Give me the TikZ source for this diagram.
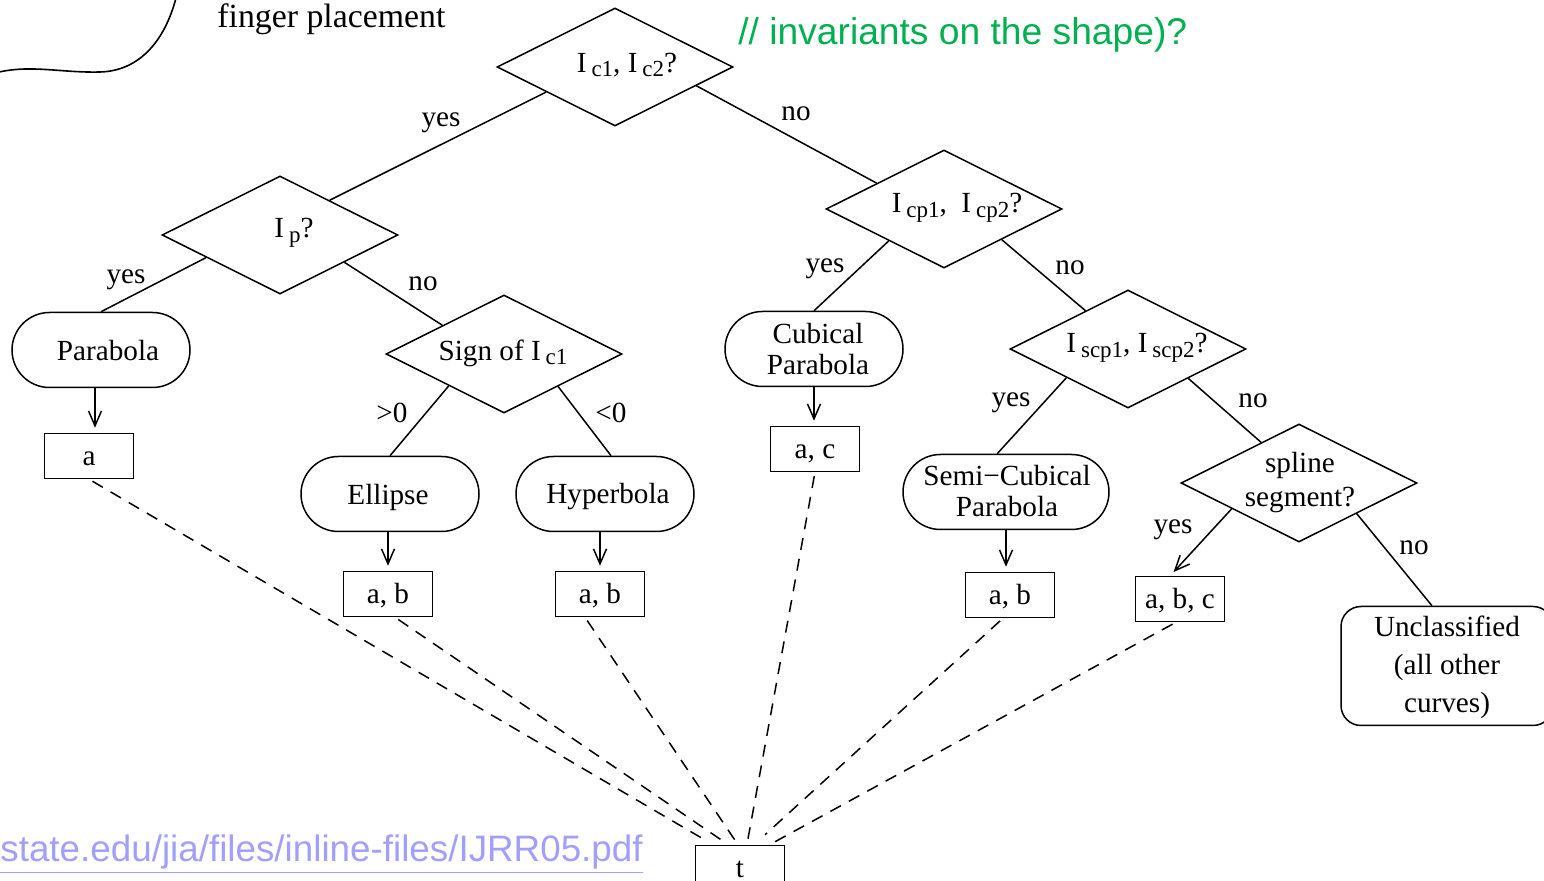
\documentclass[tikz,border=0pt]{standalone}
\usepackage{fontspec}
\setmainfont{Liberation Serif}
\newfontfamily\slidesans{Liberation Sans}
\usetikzlibrary{shapes.geometric,shapes.misc,arrows.meta,calc}
\definecolor{slidegreen}{RGB}{0,176,80}
\definecolor{linkblue}{RGB}{160,160,250}
% index set slightly lowered, as in the invariant names
\newcommand\idx[1]{\,\raisebox{-0.35ex}{\fontsize{11.5}{12}\selectfont #1}}

\begin{document}
\begin{tikzpicture}[x=0.5pt,y=-0.5pt,
  every node/.style={font=\fontsize{14.6}{15.5}\selectfont},
  test/.style={diamond,draw,line width=0.75pt,aspect=2,minimum width=118pt,minimum height=59pt,inner sep=0pt},
  leaf/.style={rounded rectangle,draw,line width=0.75pt,minimum width=89pt,minimum height=37.5pt,inner sep=0pt},
  param/.style={rectangle,draw,line width=0.75pt,minimum width=44.5pt,minimum height=22.5pt,inner sep=0pt,text height=12pt,text depth=2pt},
  txt/.style={inner sep=0pt,align=center},
  branch/.style={line width=0.75pt},
  arr/.style={line width=0.75pt,-{Straight Barb[length=7.5pt,width=6.5pt]},shorten >=2.5pt},
  dashlink/.style={line width=0.75pt,dash pattern=on 6pt off 4.5pt,shorten <=2pt}
]
\useasboundingbox (0,0) rectangle (1544,881);
\clip (0,0) rectangle (1544,881);

% hand-drawn stroke and surrounding slide text
\draw[line width=0.8pt] (-5,73) .. controls (30,64) and (60,73) .. (100,72)
  .. controls (140,71) and (165,40) .. (176,-2);
\node[txt,anchor=base west,font=\fontsize{16.9}{18}\selectfont] (finger) at (217,28) {finger placement};
\node[txt,anchor=base west,text=slidegreen,font=\slidesans\fontsize{18.6}{20}\selectfont] (inv) at (738,45) {// invariants on the shape)?};
\node[txt,anchor=base west,text=linkblue,font=\slidesans\fontsize{18.4}{20}\selectfont] (url) at (0,862) {\underline{state.edu/jia/files/inline-files/IJRR05.pdf}};

% decision diamonds
\node[test] (d1) at (615,67) {};
\node[test] (d2) at (280,235) {};
\node[test] (d3) at (944,209) {};
\node[test] (d4) at (504,354) {};
\node[test] (d5) at (1128,349) {};
\node[test] (d6) at (1299,483) {};
\node[txt] (d1t) at (627,65) {I\idx{c1},\ I\idx{c2}?};
\node[txt] (d2t) at (294,233) {I\idx{p}?};
\node[txt] (d3t) at (957,208) {I\idx{cp1},\ \ I\idx{cp2}?};
\node[txt] (d4t) at (503,353) {Sign of I\idx{c1}};
\node[txt] (d5t) at (1137,348) {I\idx{scp1}, I\idx{scp2}?};
\node[txt,font=\fontsize{14.6}{17}\selectfont] (d6t) at (1300,483) {spline\\segment?};

% curve classes
\node[leaf] (parab) at (101,350) {};
\node[leaf] (ellipse) at (390,494) {};
\node[leaf] (hyper) at (605,494) {};
\node[leaf] (cubic) at (814,349) {};
\node[leaf,minimum width=103pt] (semi) at (1006,492) {};
\node[rectangle,rounded corners=10pt,draw,line width=0.75pt,minimum width=106pt,minimum height=59.5pt] (uncl) at (1447,666) {};
\node[txt] (parabt) at (108,351) {Parabola};
\node[txt] (ellipset) at (388,497) {Ellipse};
\node[txt] (hypert) at (608,497) {Hyperbola};
\node[txt] (cubict) at (818,349) {Cubical\\Parabola};
\node[txt] (semit) at (1007,491) {Semi−Cubical\\Parabola};
\node[txt,font=\fontsize{14.6}{19}\selectfont] (unclt) at (1447,667) {Unclassified\\(all other\\curves)};

% parameter boxes
\node[param] (pa) at (89,456) {a};
\node[param] (pab1) at (388,594) {a, b};
\node[param] (pab2) at (600,594) {a, b};
\node[param] (pac) at (815,449) {a, c};
\node[param] (pab3) at (1010,595) {a, b};
\node[param] (pabc) at (1180,599) {a, b, c};
\node[param] (t) at (740,868) {t};

% branches
\draw[branch] (d1.200) -- (d2.35);
\draw[branch] (d1.-13) -- (d3.159);
\draw[branch] (d2.197) -- (parab.north);
\draw[branch] (d2.-23) -- (d4.155);
\draw[branch] (d4.210) -- (ellipse.north);
\draw[branch] (d4.-31) -- (hyper.81);
\draw[branch] (d3.210) -- (cubic.north);
\draw[branch] (d3.-28) -- (d5.138);
\draw[branch] (d5.205) -- (semi.103);
\draw[branch] (d5.-26) -- (d6.133);
\draw[arr] (d6.201) -- (pabc.113);
\draw[branch] (d6.-28) -- (uncl.104);

% branch labels
\node[txt] (l1) at (441,123) {yes};
\node[txt] (l2) at (796,114) {no};
\node[txt] (l3) at (126,280) {yes};
\node[txt] (l4) at (423,284) {no};
\node[txt] (l5) at (392,413) {>0};
\node[txt] (l6) at (611,413) {<0};
\node[txt] (l7) at (825,269) {yes};
\node[txt] (l8) at (1070,268) {no};
\node[txt] (l9) at (1011,403) {yes};
\node[txt] (l10) at (1253,401) {no};
\node[txt] (l11) at (1173,530) {yes};
\node[txt] (l12) at (1414,548) {no};

% class to parameters
\draw[arr] ([xshift=-3pt]parab.south) -- ([xshift=3pt]pa.north);
\draw[arr] (ellipse.south -| pab1.north) -- (pab1.north);
\draw[arr] (hyper.south -| pab2.north) -- (pab2.north);
\draw[arr] (cubic.south) -- (cubic.south |- pac.north);
\draw[arr] (semi.south) -- (semi.south |- pab3.north);

% parameters to t
\draw[dashlink] (pa.south) -- ($(t.north)+(-32,-3)$);
\draw[dashlink] ([xshift=3.5pt]pab1.south) -- ($(t.north)+(-19,-5)$);
\draw[dashlink] ([xshift=-7.5pt]pab2.south) -- ($(t.north)+(-4,-3)$);
\draw[dashlink] (pac.south) -- ($(t.north)+(8,-6)$);
\draw[dashlink] ([xshift=-3.5pt]pab3.south) -- ($(t.north)+(25,-10)$);
\draw[dashlink] ([xshift=-2pt]pabc.south) -- ($(t.north)+(35,-3)$);
\end{tikzpicture}
\end{document}
